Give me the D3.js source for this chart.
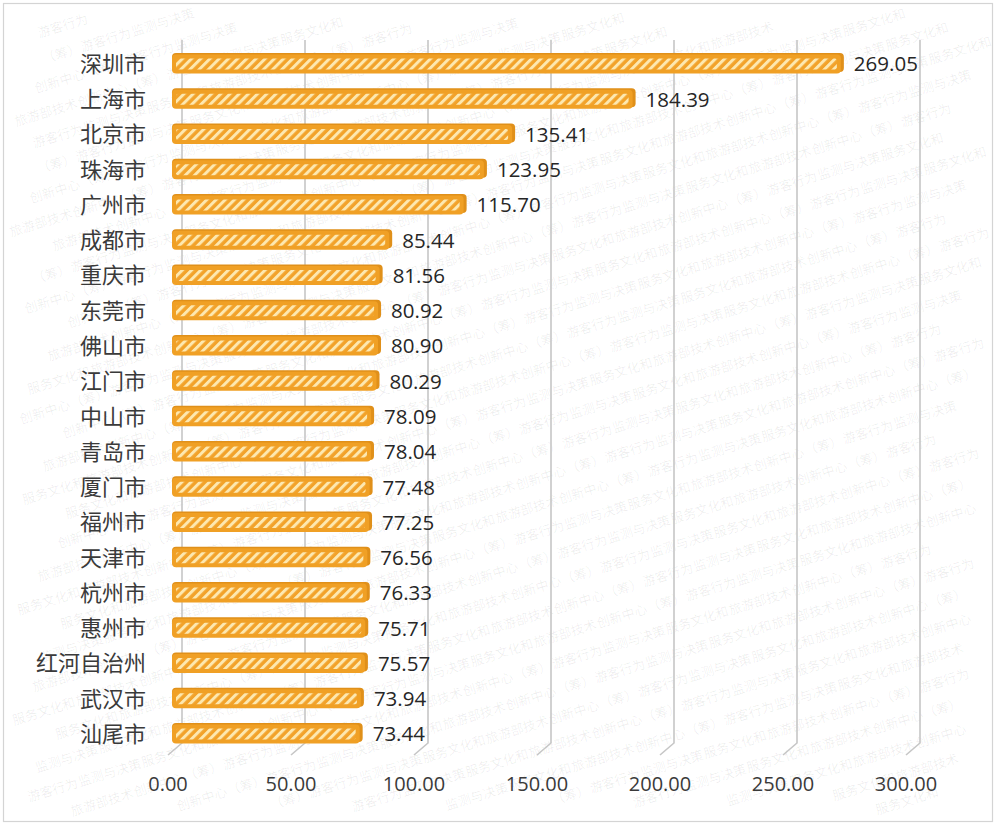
<!DOCTYPE html>
<html><head><meta charset="utf-8">
<script src="https://cdn.jsdelivr.net/npm/d3@7"></script>
<style>html,body{margin:0;padding:0;background:#fff;}svg{display:block;}</style>
</head><body>
<svg id="c" width="1000" height="827"></svg>
<script>
const categories = ["深圳市","上海市","北京市","珠海市","广州市","成都市","重庆市","东莞市","佛山市","江门市","中山市","青岛市","厦门市","福州市","天津市","杭州市","惠州市","红河自治州","武汉市","汕尾市"];
const values = [269.05,184.39,135.41,123.95,115.70,85.44,81.56,80.92,80.90,80.29,78.09,78.04,77.48,77.25,76.56,76.33,75.71,75.57,73.94,73.44];
const ticks = [0,50,100,150,200,250,300];
const watermarkParts = ["游客行为", "监测与决策", "服务文化和", "旅游部技术", "创新中心", "（筹）"];

const svg = d3.select("#c");
const W = 1000, H = 827;
const font = "'Open Sans','Noto Sans CJK SC',sans-serif";
const cjk = "'Noto Sans CJK SC',sans-serif";

// watermark: short pieces, each kept entirely inside the frame
const ang = -17 * Math.PI / 180;
const cx = W/2, cy = H/2;
const wm = svg.append("g").attr("pointer-events","none");
const widths = watermarkParts.map(p => {
  const t = wm.append("text").attr("font-family",cjk).attr("font-size",13).text(p);
  const w = t.node().getComputedTextLength(); t.remove(); return w;
});
const gap = 1;
function toScreen(u, v) {
  return [cx + u*Math.cos(ang) - v*Math.sin(ang), cy + u*Math.sin(ang) + v*Math.cos(ang)];
}
d3.range(-40, 41).forEach(i => {
  const v = i * 26;
  let u = -1400 + (((i % 5) + 5) % 5) * 37;
  let k = 0;
  while (u < 1400) {
    const pi = k % watermarkParts.length;
    const pw = widths[pi];
    const corners = [toScreen(u, v-11), toScreen(u+pw, v-11), toScreen(u, v+3), toScreen(u+pw, v+3)];
    const inside = corners.every(([sx, sy]) => sx > 6 && sx < W-6 && sy > 6 && sy < H-6);
    if (inside) {
      const [sx, sy] = toScreen(u, v);
      wm.append("text").attr("transform", `translate(${sx},${sy}) rotate(-17)`)
        .attr("font-family", cjk).attr("font-size", 13)
        .attr("fill", "#000").attr("fill-opacity", 0.07).text(watermarkParts[pi]);
    }
    u += pw + gap; k++;
  }
});

// border
svg.append("rect").attr("x",3.5).attr("y",3.5).attr("width",989).attr("height",818)
  .attr("fill","none").attr("stroke","#d4d4d4").attr("stroke-width",1.2);

const x = d3.scaleLinear().domain([0,300]).range([182,920]);
const y = d3.scalePoint().domain(categories).range([64,734]);
const depthX = 14, depthY = 12;
const gridTop = 40, gridBottom = 743;

// defs pattern
const defs = svg.append("defs");
const pat = defs.append("pattern").attr("id","hatch").attr("patternUnits","userSpaceOnUse")
  .attr("width",6.5).attr("height",6.5).attr("patternTransform","rotate(45)");
pat.append("rect").attr("width",6.5).attr("height",6.5).attr("fill","#f2a22a");
pat.append("rect").attr("x",0).attr("width",3).attr("height",6.5).attr("fill","#fde8b0");

// gridlines (back plane) with floor feet
const grid = svg.append("g");
ticks.forEach(t => {
  grid.append("path")
    .attr("d", `M${x(t)},${gridTop}V${gridBottom}L${x(t)-depthX},${gridBottom+depthY}`)
    .attr("fill","none").attr("stroke","#c6c6c6").attr("stroke-width",1.6);
});

// bars
const bh = 19;
const bars = svg.append("g").selectAll("g").data(categories).join("g");
bars.append("rect")
  .attr("x", x(0)-10).attr("y", d => y(d)-bh/2-1.5)
  .attr("width", (d,i) => x(values[i]) - x(0) + 10).attr("height", bh)
  .attr("rx",4).attr("fill","#e0901a");
bars.append("rect")
  .attr("x", x(0)-10).attr("y", d => y(d)-bh/2)
  .attr("width", (d,i) => x(values[i]) - x(0) + 7).attr("height", bh)
  .attr("rx",4).attr("fill","#f0a025");
bars.append("rect")
  .attr("x", x(0)-6).attr("y", d => y(d)-bh/2+4)
  .attr("width", (d,i) => x(values[i]) - x(0) - 1).attr("height", bh-8)
  .attr("rx",2).attr("fill","url(#hatch)");

// value labels
bars.append("text")
  .attr("x", (d,i) => x(values[i]) + 10).attr("y", d => y(d))
  .attr("dy","0.36em").attr("font-family",font).attr("font-size",20.5).attr("fill","#262626")
  .text((d,i) => values[i].toFixed(2));

// category labels
svg.append("g").selectAll("text").data(categories).join("text")
  .attr("x",146).attr("y", d => y(d)).attr("dy","0.36em").attr("text-anchor","end")
  .attr("font-family",cjk).attr("font-size",22).attr("fill","#3a3a3a")
  .text(d => d);

// axis tick labels (front plane)
svg.append("g").selectAll("text").data(ticks).join("text")
  .attr("x", d => x(d) - depthX).attr("y", 784).attr("dy","0.36em").attr("text-anchor","middle")
  .attr("font-family",font).attr("font-size",20).attr("fill","#3a3a3a")
  .text(d => d.toFixed(2));
</script>
</body></html>
